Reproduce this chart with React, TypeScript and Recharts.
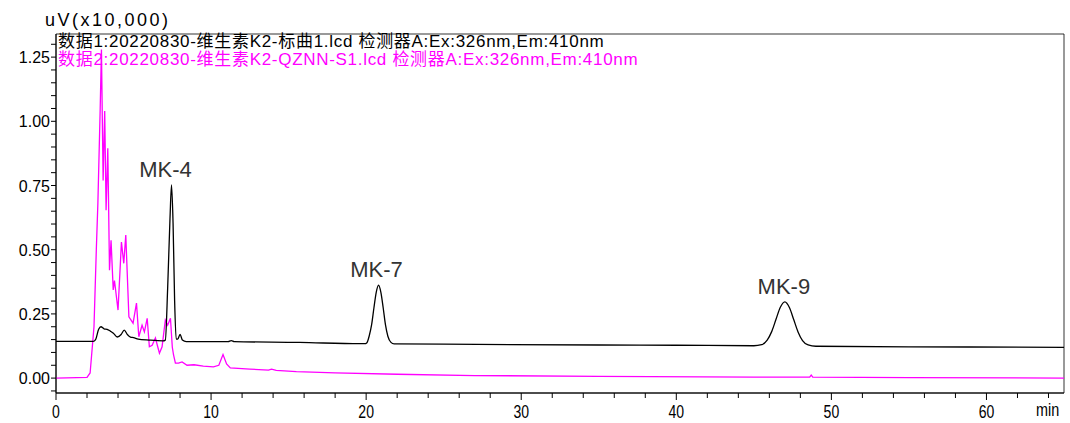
import React from "react";
import {
  LineChart,
  Line,
  XAxis,
  YAxis,
  ReferenceDot,
  ReferenceArea,
} from "recharts";

// 数据1: 标曲 (black), [min, uV x10,000]
const standardTrace: [number, number][] = [
  [0, 0.143], [1.5, 0.143], [2.4, 0.143], [2.55, 0.15], [2.75, 0.19], [2.9, 0.2],
  [3.1, 0.192], [3.3, 0.19], [3.5, 0.183], [3.7, 0.175], [3.95, 0.16], [4.2, 0.17],
  [4.4, 0.187], [4.6, 0.17], [4.8, 0.16], [5.0, 0.158], [5.3, 0.152], [6.0, 0.148],
  [6.9, 0.145], [7.05, 0.148], [7.2, 0.35], [7.35, 0.62], [7.45, 0.752], [7.55, 0.6],
  [7.65, 0.3], [7.75, 0.152], [7.85, 0.152], [8.0, 0.17], [8.15, 0.148], [8.4, 0.142],
  [10.0, 0.142], [11.1, 0.142], [11.3, 0.146], [11.5, 0.142], [15.7, 0.139],
  [19.6, 0.134], [19.9, 0.134], [20.05, 0.138], [20.2, 0.165], [20.35, 0.207],
  [20.5, 0.273], [20.65, 0.334], [20.8, 0.362], [20.95, 0.334], [21.1, 0.273],
  [21.25, 0.206], [21.4, 0.163], [21.6, 0.139], [21.8, 0.133], [25, 0.132],
  [35, 0.129], [40, 0.128], [45, 0.126], [45.5, 0.13], [45.86, 0.148], [46.15, 0.181],
  [46.43, 0.229], [46.7, 0.275], [47.0, 0.297], [47.3, 0.274], [47.57, 0.228],
  [47.85, 0.18], [48.14, 0.146], [48.5, 0.129], [49.0, 0.124], [55, 0.122], [65, 0.12],
];

// 数据2: QZNN-S1 (magenta)
const sampleTrace: [number, number][] = [
  [0, 0.0], [2.0, 0.003], [2.2, 0.02], [2.45, 0.2], [2.6, 0.5], [2.7, 0.68],
  [2.85, 1.05], [2.93, 1.28], [3.0, 0.95], [3.04, 0.77], [3.14, 1.04], [3.23, 0.654],
  [3.34, 0.895], [3.45, 0.42], [3.55, 0.537], [3.69, 0.343], [3.77, 0.38], [4.0, 0.265],
  [4.22, 0.53], [4.37, 0.447], [4.5, 0.557], [4.7, 0.239], [4.97, 0.214], [5.19, 0.292],
  [5.34, 0.161], [5.55, 0.206], [5.7, 0.18], [5.88, 0.233], [6.02, 0.122], [6.2, 0.128],
  [6.41, 0.156], [6.67, 0.097], [6.84, 0.122], [7.05, 0.226], [7.2, 0.206], [7.38, 0.233],
  [7.5, 0.12], [7.58, 0.09], [7.7, 0.058], [7.9, 0.058], [8.13, 0.063], [8.45, 0.05],
  [8.9, 0.052], [9.5, 0.047], [10.15, 0.044], [10.5, 0.05], [10.77, 0.092], [11.0, 0.055],
  [11.24, 0.04], [12.5, 0.035], [13.7, 0.031], [13.9, 0.035], [14.2, 0.03], [15.5, 0.025],
  [18, 0.02], [22, 0.015], [27, 0.01], [35, 0.007], [45, 0.004], [48.6, 0.004],
  [48.7, 0.012], [48.8, 0.004], [55, 0.002], [65, 0.0],
];

const peakNames = ["MK-4", "MK-7", "MK-9"];
const peakTimes = [7.45, 20.8, 47.0];
const peakHeights = [0.752, 0.362, 0.297];
const peakShift = [-6, -2, -1];

const xTicks = [
  0, 2, 4, 6, 8, 10, 12, 14, 16, 18, 20, 22, 24, 26, 28, 30, 32, 34, 36, 38, 40,
  42, 44, 46, 48, 50, 52, 54, 56, 58, 60, 62, 64,
];
const yTicks = [
  -0.05, 0, 0.05, 0.1, 0.15, 0.2, 0.25, 0.3, 0.35, 0.4, 0.45, 0.5, 0.55, 0.6, 0.65,
  0.7, 0.75, 0.8, 0.85, 0.9, 0.95, 1.0, 1.05, 1.1, 1.15, 1.2, 1.25, 1.3,
];
const yLabelled = [0, 0.25, 0.5, 0.75, 1.0, 1.25];

const X_DOMAIN: [number, number] = [0, 65];
const Y_DOMAIN: [number, number] = [-0.058, 1.34];

const toRows = (pts: [number, number][]) => pts.map(([t, v]) => ({ t, v }));

const sans = "'Liberation Sans', Arial, 'Noto Sans CJK SC', sans-serif";

function XTick(props: any) {
  const { x, y, payload } = props;
  const v = payload.value as number;
  const major = v % 10 === 0;
  return (
    <g>
      <line x1={x} x2={x} y1={y} y2={y + (major ? 7 : 5)} stroke="#000" />
      {major && (
        // condensed digits like the instrument software
        <text
          transform={`translate(${x},${y + 25}) scale(0.78,1)`}
          textAnchor="middle"
          fontSize={18}
          fontFamily={sans}
          fill="#000"
        >
          {v}
        </text>
      )}
    </g>
  );
}

function YTick(props: any) {
  const { x, y, payload } = props;
  const v = payload.value as number;
  const labelled = yLabelled.some((m) => Math.abs(m - v) < 1e-6);
  return (
    <g>
      <line x1={x - 5} x2={x} y1={y} y2={y} stroke="#000" />
      {labelled && (
        <text x={x - 6} y={y + 6} textAnchor="end" fontSize={16} fontFamily={sans} fill="#000">
          {v.toFixed(2)}
        </text>
      )}
    </g>
  );
}

export default function App() {
  return (
    <div style={{ position: "absolute", left: 0, top: 0, width: 1070, height: 423, background: "#fff" }}>
      <LineChart width={1070} height={423} margin={{ top: 34, right: 6, bottom: 0, left: 0 }}>
        <XAxis
          dataKey="t"
          type="number"
          domain={X_DOMAIN}
          ticks={xTicks}
          allowDataOverflow
          height={30}
          tickSize={0}
          tickMargin={0}
          tick={<XTick />}
          interval={0}
          axisLine={{ stroke: "#000" }}
        />
        <YAxis
          type="number"
          domain={Y_DOMAIN}
          ticks={yTicks}
          allowDataOverflow
          width={56}
          tickSize={0}
          tickMargin={0}
          tick={<YTick />}
          interval={0}
          axisLine={{ stroke: "#000" }}
        />
        <ReferenceArea
          x1={X_DOMAIN[0]}
          x2={X_DOMAIN[1]}
          y1={Y_DOMAIN[0]}
          y2={Y_DOMAIN[1]}
          fill="none"
          stroke="#000"
          strokeOpacity={0.8}
        />
        <Line
          data={toRows(sampleTrace)}
          dataKey="v"
          type="linear"
          stroke="#ff00ff"
          strokeWidth={1.3}
          dot={false}
          isAnimationActive={false}
        />
        <Line
          data={toRows(standardTrace)}
          dataKey="v"
          type="monotone"
          stroke="#000"
          strokeWidth={1.3}
          dot={false}
          isAnimationActive={false}
        />
        {peakNames.map((name, i) => (
          <ReferenceDot
            key={name}
            x={peakTimes[i]}
            y={peakHeights[i]}
            r={0}
            stroke="none"
            label={(p: any) => (
              <text
                x={p.viewBox.x + peakShift[i]}
                y={p.viewBox.y - 8}
                textAnchor="middle"
                fontSize={22}
                fontFamily={sans}
                fill="#333"
              >
                {name}
              </text>
            )}
          />
        ))}
      </LineChart>
      <div style={{ position: "absolute", left: 45, top: 10, fontSize: 18, letterSpacing: 2.5, fontFamily: sans, color: "#000" }}>
        uV(x10,000)
      </div>
      <div style={{ position: "absolute", left: 58, top: 33, fontSize: 17, letterSpacing: 0.7, lineHeight: "18px", fontFamily: sans, whiteSpace: "nowrap" }}>
        <div style={{ color: "#000" }}>数据1:20220830-维生素K2-标曲1.lcd 检测器A:Ex:326nm,Em:410nm</div>
        <div style={{ color: "#ff00ff" }}>数据2:20220830-维生素K2-QZNN-S1.lcd 检测器A:Ex:326nm,Em:410nm</div>
      </div>
      <div
        style={{
          position: "absolute",
          left: 1036,
          top: 400,
          fontSize: 18,
          fontFamily: sans,
          color: "#000",
          transform: "scaleX(0.8)",
          transformOrigin: "left top",
        }}
      >
        min
      </div>
    </div>
  );
}
